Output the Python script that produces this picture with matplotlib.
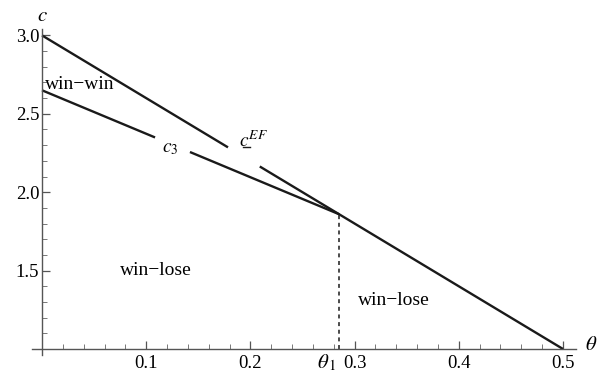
import numpy as np
import matplotlib
matplotlib.use("Agg")
import matplotlib.pyplot as plt
from matplotlib import font_manager

names = {f.name for f in font_manager.fontManager.ttflist}
serif_list = [n for n in ['Liberation Serif', 'STIXGeneral', 'DejaVu Serif'] if n in names]
plt.rcParams['font.family'] = serif_list
plt.rcParams['mathtext.fontset'] = 'stix'

# data
theta1 = 0.2853
cEF_theta = [0.0, 0.5]
cEF_vals = [3.0, 1.0]
c3_theta = [0.0, theta1]
c3_vals = [2.65, 1.859]
c3_gap = [0.1085, 0.142]
cEF_gap = [0.1785, 0.209]
xticks = [0.1, 0.2, 0.3, 0.4, 0.5]
xticklabels = ['0.1', '0.2', '0.3', '0.4', '0.5']
yticks = [1.5, 2.0, 2.5, 3.0]
yticklabels = ['1.5', '2.0', '2.5', '3.0']

W, H = 598, 372
fig = plt.figure(figsize=(W / 100, H / 100), dpi=100)
xl, xr = -0.01, 0.512
yb, yt = 0.96, 3.04
px_x0, px_per_x = 42.0, 1042.0
px_y1, px_per_y = 349.0, 156.8
left = px_x0 + (xl - 0) * px_per_x
right = px_x0 + xr * px_per_x
top = px_y1 - (yt - 1.0) * px_per_y
bottom = px_y1 - (yb - 1.0) * px_per_y
ax = fig.add_axes([left / W, 1 - bottom / H, (right - left) / W, (bottom - top) / H])
ax.set_xlim(xl, xr)
ax.set_ylim(yb, yt)

col = '#1a1a1a'
lw = 1.7

def seg(ts, vs, a, b):
    t = np.array([a, b])
    return t, np.interp(t, ts, vs)

# c3 line with gap
for a, b in [(c3_theta[0], c3_gap[0]), (c3_gap[1], c3_theta[1])]:
    t, v = seg(c3_theta, c3_vals, a, b)
    ax.plot(t, v, color=col, lw=lw, solid_capstyle='butt')
# cEF line with gap
for a, b in [(cEF_theta[0], cEF_gap[0]), (cEF_gap[1], cEF_theta[1])]:
    t, v = seg(cEF_theta, cEF_vals, a, b)
    ax.plot(t, v, color=col, lw=lw, solid_capstyle='butt')

# dashed vertical line at theta1
ct1 = np.interp(theta1, cEF_theta, cEF_vals)
ax.plot([theta1, theta1], [1.0, ct1], color=col, lw=1.1, ls=(0, (2.6, 2.4)))

# axes styling
for s in ['top', 'right']:
    ax.spines[s].set_visible(False)
ax.spines['left'].set_position(('data', 0))
ax.spines['bottom'].set_position(('data', 1.0))
for s in ['left', 'bottom']:
    ax.spines[s].set_color('#555555')
    ax.spines[s].set_linewidth(1.0)

ax.set_xticks(xticks)
ax.set_xticklabels(xticklabels)
ax.set_yticks(yticks)
ax.set_yticklabels(yticklabels)
ax.set_xticks(np.arange(0.02, 0.51, 0.02), minor=True)
ax.set_yticks(np.arange(1.1, 3.01, 0.1), minor=True)
ax.tick_params(which='major', direction='in', length=6, width=0.9, color='#555555',
               labelsize=13.5, pad=4)
ax.tick_params(which='minor', direction='in', length=3.5, width=0.7, color='#777777')
ax.tick_params(axis='y', which='major', pad=2)

# labels
ax.text(0.0, 3.12, r'$c$', fontsize=15, ha='center', va='center', clip_on=False)
ax.text(0.527, 1.02, r'$\theta$', fontsize=15, ha='center', va='center', clip_on=False)
ax.text(theta1 - 0.012, 0.91, r'$\theta_{\,1}$', fontsize=15, ha='center', va='center', clip_on=False)

ax.text(0.123, 2.28, r'$c_3$', fontsize=14, ha='center', va='center')
ax.text(0.203, 2.33, r'$c^{EF}$', fontsize=14, ha='center', va='center')
# underline under the c of the c^EF label
ax.plot([0.1925, 0.1995], [2.287, 2.287], color=col, lw=1.0)

ax.text(0.003, 2.69, 'win\u2212win', fontsize=14, ha='left', va='center')
ax.text(0.075, 1.5, 'win\u2212lose', fontsize=14, ha='left', va='center')
ax.text(0.303, 1.31, 'win\u2212lose', fontsize=14, ha='left', va='center')

fig.savefig('out.png', dpi=100)
